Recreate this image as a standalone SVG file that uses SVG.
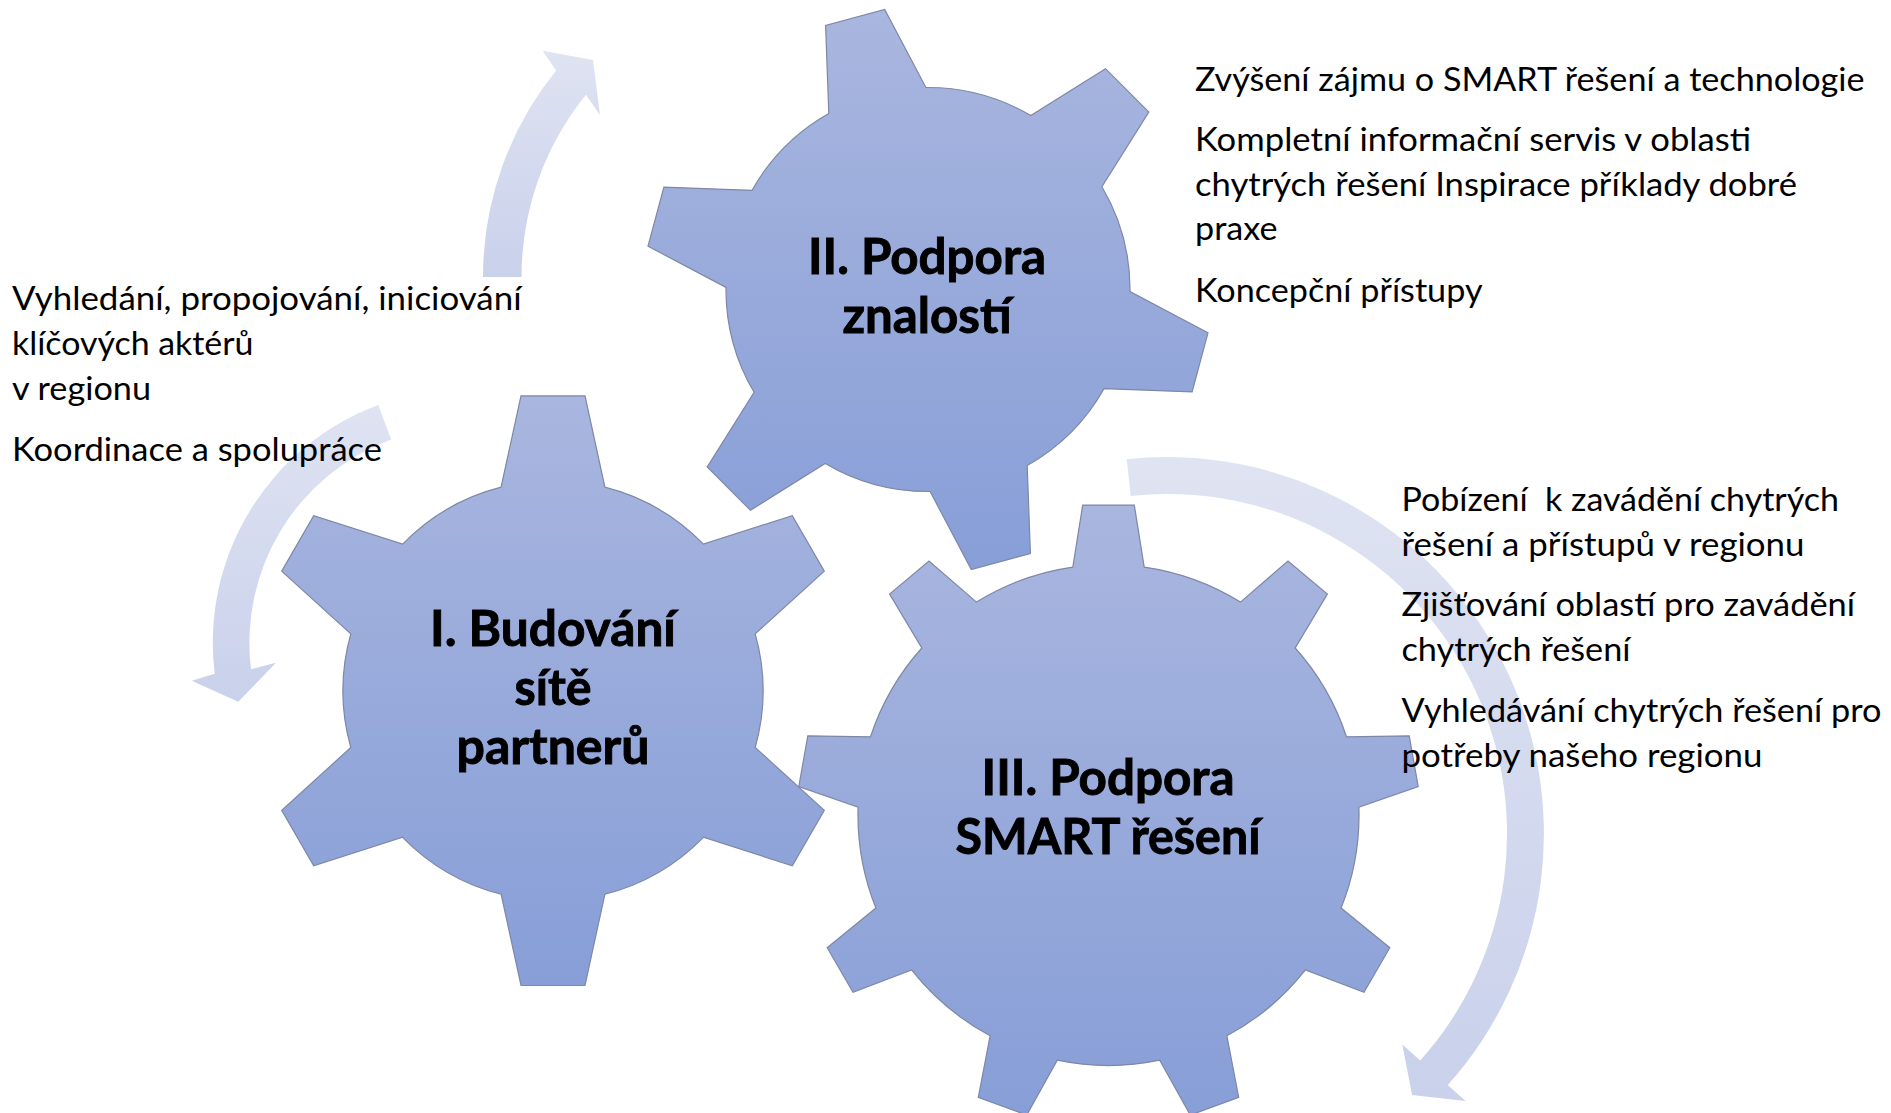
<svg xmlns="http://www.w3.org/2000/svg" width="1891" height="1113" viewBox="0 0 1891 1113">
<defs>
<linearGradient id="gearFill" x1="0" y1="0" x2="0" y2="1">
<stop offset="0" stop-color="#A9B6DF"/>
<stop offset="1" stop-color="#879ED7"/>
</linearGradient>
<linearGradient id="arrowFill" x1="0" y1="0" x2="0" y2="1">
<stop offset="0" stop-color="#DFE3F2"/>
<stop offset="1" stop-color="#C9D1EB"/>
</linearGradient>
<style>
.gear{fill:url(#gearFill);stroke:#7d88a6;stroke-width:1.2;stroke-linejoin:miter}
.arrow{fill:url(#arrowFill);stroke:none}
.body{font-family:Lato,"Open Sans","Liberation Sans",sans-serif;font-size:33px;fill:#000}
.title{font-family:Lato,"Open Sans","Liberation Sans",sans-serif;font-size:49px;font-weight:700;fill:#000;stroke:#000;stroke-width:0.9;text-anchor:middle}
</style>
</defs>
<rect width="1891" height="1113" fill="#FFFFFF"/>

<g id="connectors">
<path class="arrow" d="M 483,277 A 328 328 0 0 1 556.1,70.6 L 542.7,50.7 L 593,60 L 600,115 L 586,94.8 A 289.5 289.5 0 0 0 521.5,277 Z"/>
<path class="arrow" d="M 378.3,405 A 253.5 253.5 0 0 0 214.7,673.7 L 191.7,680.7 L 238.3,701.7 L 276,662.7 L 251,669.2 A 216.9 216.9 0 0 1 391.1,439.4 Z"/>
<path class="arrow" d="M 1126.7,459.3 A 376.6 376.6 0 0 1 1447.7,1085.1 L 1465.6,1101.1 L 1412.1,1095.1 L 1402.3,1044.4 L 1420.2,1060.4 A 339.6 339.6 0 0 0 1130.7,496 Z"/>
</g>

<g id="gear1">
<path class="gear" d="M 501.1,487.2 L 521,395.9 L 585,395.9 L 604.9,487.2 A 210 210 0 0 1 703.4,544.1 L 792.3,515.6 L 824.3,571.1 L 755.2,633.9 A 210 210 0 0 1 755.2,747.5 L 824.3,810.3 L 792.3,865.8 L 703.4,837.3 A 210 210 0 0 1 604.9,894.2 L 585,985.5 L 521,985.5 L 501.1,894.2 A 210 210 0 0 1 402.6,837.3 L 313.7,865.8 L 281.7,810.3 L 350.8,747.5 A 210 210 0 0 1 350.8,633.9 L 281.7,571.1 L 313.7,515.6 L 402.6,544.1 A 210 210 0 0 1 501.1,487.2 Z"/>
<text class="title" x="553" y="646" textLength="246" lengthAdjust="spacingAndGlyphs">I. Budování</text>
<text class="title" x="553" y="705" textLength="77" lengthAdjust="spacingAndGlyphs">sítě</text>
<text class="title" x="553" y="764" textLength="193" lengthAdjust="spacingAndGlyphs">partnerů</text>
</g>

<g id="gear2">
<path class="gear" d="M 828.8,113.5 L 825.6,25.4 L 884.7,9.5 L 925.9,87.5 A 202 202 0 0 1 1030.8,115.6 L 1105.5,68.7 L 1148.8,112 L 1101.9,186.7 A 202 202 0 0 1 1130,291.6 L 1208,332.8 L 1192.1,391.9 L 1104,388.7 A 202 202 0 0 1 1027.2,465.5 L 1030.4,553.6 L 971.3,569.5 L 930.1,491.5 A 202 202 0 0 1 825.2,463.4 L 750.5,510.3 L 707.2,467 L 754.1,392.3 A 202 202 0 0 1 726,287.4 L 648,246.2 L 663.9,187.1 L 752,190.3 A 202 202 0 0 1 828.8,113.5 Z"/>
<text class="title" x="927" y="274" textLength="238" lengthAdjust="spacingAndGlyphs">II. Podpora</text>
<text class="title" x="927" y="333" textLength="169" lengthAdjust="spacingAndGlyphs">znalostí</text>
</g>

<g id="gear3">
<path class="gear" d="M 1072.8,567.1 L 1082.7,505.1 L 1134.3,505.1 L 1144.2,567.1 A 250.5 250.5 0 0 1 1240.5,602.1 L 1288,561 L 1327.4,594.1 L 1295.2,648 A 250.5 250.5 0 0 1 1346.5,736.8 L 1409.2,735.8 L 1418.2,786.5 L 1358.9,807.1 A 250.5 250.5 0 0 1 1341.1,908 L 1389.8,947.7 L 1364,992.3 L 1305.4,969.9 A 250.5 250.5 0 0 1 1226.9,1035.8 L 1238.7,1097.4 L 1190.3,1115.1 L 1159.7,1060.2 A 250.5 250.5 0 0 1 1057.3,1060.2 L 1026.7,1115.1 L 978.3,1097.4 L 990.1,1035.8 A 250.5 250.5 0 0 1 911.6,969.9 L 853,992.3 L 827.2,947.7 L 875.9,908 A 250.5 250.5 0 0 1 858.1,807.1 L 798.8,786.5 L 807.8,735.8 L 870.5,736.8 A 250.5 250.5 0 0 1 921.8,648 L 889.6,594.1 L 929,561 L 976.5,602.1 A 250.5 250.5 0 0 1 1072.8,567.1 Z"/>
<text class="title" x="1108" y="795" textLength="253" lengthAdjust="spacingAndGlyphs">III. Podpora</text>
<text class="title" x="1108" y="854" textLength="305" lengthAdjust="spacingAndGlyphs">SMART řešení</text>
</g>

<g id="text-gear1">
<text class="body" x="12" y="309.5" textLength="509.5" lengthAdjust="spacingAndGlyphs">Vyhledání, propojování, iniciování</text>
<text class="body" x="12" y="354.5" textLength="241.5" lengthAdjust="spacingAndGlyphs">klíčových aktérů</text>
<text class="body" x="12" y="399.5" textLength="139" lengthAdjust="spacingAndGlyphs">v regionu</text>
<text class="body" x="12" y="461" textLength="370" lengthAdjust="spacingAndGlyphs">Koordinace a spolupráce</text>
</g>

<g id="text-gear2">
<text class="body" x="1195" y="90.5" textLength="669.5" lengthAdjust="spacingAndGlyphs">Zvýšení zájmu o SMART řešení a technologie</text>
<text class="body" x="1195" y="150.5" textLength="556" lengthAdjust="spacingAndGlyphs">Kompletní informační servis v oblasti</text>
<text class="body" x="1195" y="196" textLength="602" lengthAdjust="spacingAndGlyphs">chytrých řešení Inspirace příklady dobré</text>
<text class="body" x="1195" y="240" textLength="82.5" lengthAdjust="spacingAndGlyphs">praxe</text>
<text class="body" x="1195" y="302" textLength="287.5" lengthAdjust="spacingAndGlyphs">Koncepční přístupy</text>
</g>

<g id="text-gear3">
<text class="body" x="1401.5" y="510.7" textLength="437.5" lengthAdjust="spacingAndGlyphs" xml:space="preserve" style="white-space:pre">Pobízení  k zavádění chytrých</text>
<text class="body" x="1401.5" y="555.7" textLength="403" lengthAdjust="spacingAndGlyphs">řešení a přístupů v regionu</text>
<text class="body" x="1401.5" y="616" textLength="453.5" lengthAdjust="spacingAndGlyphs">Zjišťování oblastí pro zavádění</text>
<text class="body" x="1401.5" y="661" textLength="229" lengthAdjust="spacingAndGlyphs">chytrých řešení</text>
<text class="body" x="1401.5" y="721.5" textLength="480" lengthAdjust="spacingAndGlyphs">Vyhledávání chytrých řešení pro</text>
<text class="body" x="1401.5" y="766.5" textLength="361" lengthAdjust="spacingAndGlyphs">potřeby našeho regionu</text>
</g>
</svg>
